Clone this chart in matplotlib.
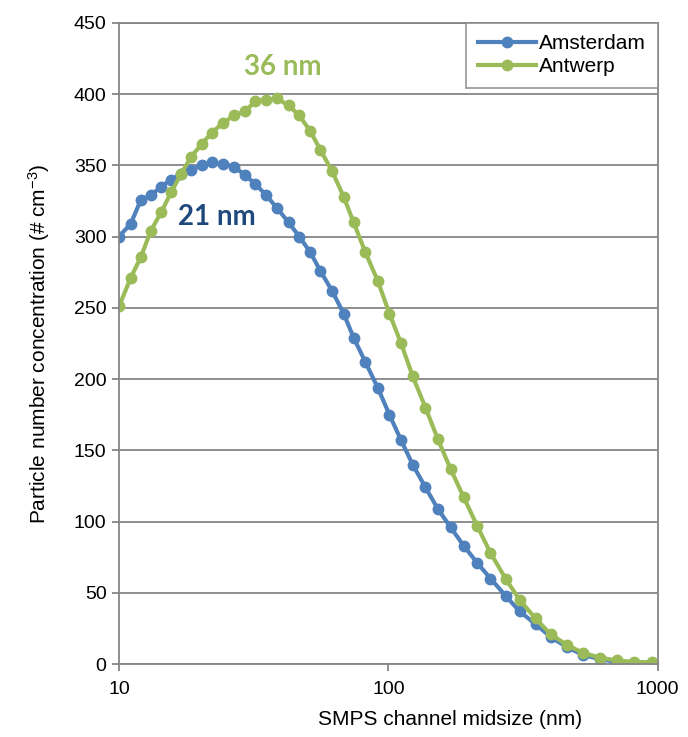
import matplotlib.pyplot as plt
from matplotlib.ticker import FixedLocator, FixedFormatter, NullLocator

BLUE = "#4F81BD"
GREEN = "#9BBB59"
GRID = "#868686"

# SMPS channel midpoints (nm)
diameter = [10.0, 11.05, 12.07, 13.12, 14.33, 15.61, 17.0, 18.52, 20.29, 22.11,
            24.42, 26.76, 29.41, 32.03, 35.2, 38.58, 42.6, 46.69, 51.29, 55.87,
            61.76, 68.22, 74.3, 82.13, 91.26, 100.9, 111.5, 123.1, 137.3, 152.5,
            170.1, 190.5, 213.6, 239.4, 272.2, 306.9, 352.0, 400.2, 459.0, 526.3,
            608.5, 704.0, 814.4, 950.0]

# particle number concentration (# cm-3)
amsterdam = [300, 309, 326, 329, 335, 340, 344, 347, 350, 352,
             351, 349, 343, 337, 329, 320, 310, 300, 289, 276,
             262, 246, 229, 212, 194, 175, 157, 140, 124, 109,
             96, 83, 71, 60, 48, 37, 28, 19, 12, 6.5,
             3.5, 1.5, 0.8, 0.5]
antwerp = [251, 271, 286, 304, 317, 331, 344, 356, 365, 373,
           380, 385, 388, 395, 396, 397, 392, 385, 374, 361,
           346, 328, 310, 289, 269, 246, 225, 202, 180, 158,
           137, 117, 97, 78, 60, 45, 32, 21, 13.5, 8,
           4.5, 2.5, 1.5, 1.2]

yticks = list(range(0, 451, 50))
xticks = [10, 100, 1000]

plt.rcParams["font.family"] = ["Liberation Sans", "DejaVu Sans"]

fig = plt.figure(figsize=(6.88, 7.37), dpi=100)
ax = fig.add_axes([0.173, 0.099, 0.783, 0.870])

ax.plot(diameter, amsterdam, color=BLUE, lw=3, marker="o", ms=7.5, label="Amsterdam")
ax.plot(diameter, antwerp, color=GREEN, lw=3, marker="o", ms=7.5, label="Antwerp")

ax.set_xscale("log")
ax.set_xlim(10, 1000)
ax.set_ylim(0, 450)
ax.xaxis.set_major_locator(FixedLocator(xticks))
ax.xaxis.set_major_formatter(FixedFormatter([str(t) for t in xticks]))
ax.xaxis.set_minor_locator(NullLocator())
ax.set_yticks(yticks)

ax.grid(axis="y", color=GRID, lw=1.3)
ax.set_axisbelow(True)
for side in ax.spines.values():
    side.set_color(GRID)
    side.set_linewidth(1.3)
ax.tick_params(axis="both", colors=GRID, labelcolor="black", labelsize=14,
               length=5, width=1.3, direction="out")
ax.tick_params(axis="y", pad=4)
ax.tick_params(axis="x", pad=7)

ax.set_xlabel("SMPS channel midsize (nm)", fontsize=15)
ax.xaxis.set_label_coords(0.614, -0.072)
ax.set_ylabel(r"Particle number concentration (# cm$\mathregular{^{-3}}$)",
              fontsize=15, labelpad=16)

ax.text(40.4, 419, "36 nm", color=GREEN, fontsize=20, fontweight="bold",
        family="Lato", ha="center", va="center")
ax.text(23.1, 314, "21 nm", color="#1F497D", fontsize=20, fontweight="bold",
        family="Lato", ha="center", va="center")

leg = ax.legend(loc="upper right", fontsize=15, frameon=True, fancybox=False,
                borderaxespad=0.0, handlelength=2.8, handletextpad=0.15,
                labelspacing=0.2, borderpad=0.55)
leg.get_frame().set_edgecolor(GRID)
leg.get_frame().set_linewidth(1.3)

fig.savefig("out.png", dpi=100)
